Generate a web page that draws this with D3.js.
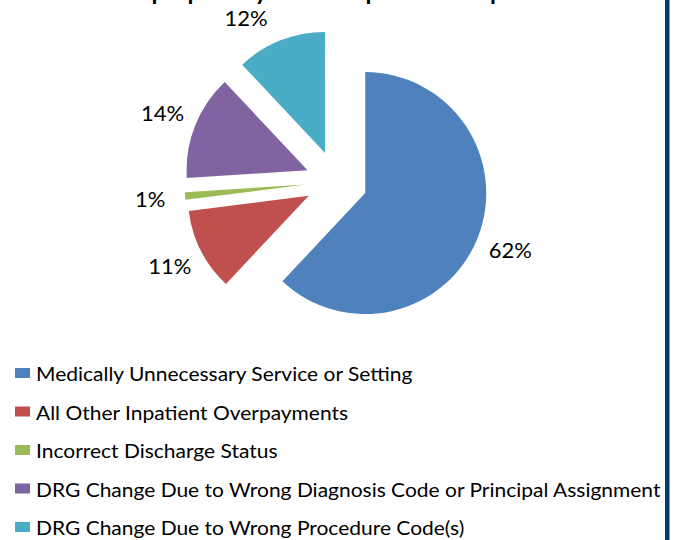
<!DOCTYPE html>
<meta charset="utf-8">
<html>
<head>
<style>
body { margin: 0; background: #fff; }
svg { display: block; }
text { font-family: Lato, "Open Sans", sans-serif; fill: #000; }
.title { font-weight: bold; font-size: 24px; text-anchor: middle; }
.pct { font-size: 22px; text-anchor: middle; }
.legend text { font-size: 18.5px; }
</style>
<script src="https://cdn.jsdelivr.net/npm/d3@7"></script>
</head>
<body>
<svg width="673" height="540"></svg>
<script>
// slice data, in the order Excel draws them (clockwise from 12 o'clock)
var categories = [
  "Medically Unnecessary Service or Setting",
  "All Other Inpatient Overpayments",
  "Incorrect Discharge Status",
  "DRG Change Due to Wrong Diagnosis Code or Principal Assignment",
  "DRG Change Due to Wrong Procedure Code(s)"
];
var shares = [62, 11, 1, 14, 12];
var pctLabels = ["62%", "11%", "1%", "14%", "12%"];
var colors = ["#4F81BD", "#C0504D", "#9BBB59", "#8064A2", "#4BACC6"];
var title = "Improper Payments: Inpatient Hospitals";

var svg = d3.select("svg"),
    width = +svg.attr("width"),
    height = +svg.attr("height");

// slide border on the right
svg.append("rect")
    .attr("x", 665).attr("y", 0)
    .attr("width", 4.5).attr("height", height)
    .attr("fill", "#083a6f");

// title, mostly cropped off the top (only its lower edge shows)
svg.append("text")
    .attr("class", "title")
    .attr("x", 336)
    .attr("y", 0)
    .text(title);

var cx = 336.4, cy = 181.7,
    radius = 121,
    explode = 31,
    labelRadius = 187,
    labelMinY = 18;

var pie = d3.pie().sort(null).value(function(d) { return d; });
var arc = d3.arc().innerRadius(0).outerRadius(radius);
var arcs = pie(shares);

var g = svg.append("g").attr("transform", "translate(" + cx + "," + cy + ")");

function mid(d) { return (d.startAngle + d.endAngle) / 2; }

g.selectAll("path.slice")
  .data(arcs)
  .enter().append("path")
    .attr("class", "slice")
    .attr("d", arc)
    .attr("fill", function(d, i) { return colors[i]; })
    .attr("transform", function(d) {
      var a = mid(d);
      return "translate(" + (Math.sin(a) * explode) + "," + (-Math.cos(a) * explode) + ")";
    });

// outside-end labels on a circle, pushed down along it if they hit the top
g.selectAll("text.pct")
  .data(arcs)
  .enter().append("text")
    .attr("class", "pct")
    .each(function(d, i) {
      var a = mid(d);
      var x = Math.sin(a) * labelRadius,
          y = -Math.cos(a) * labelRadius;
      if (y + cy < labelMinY) {
        y = labelMinY - cy;
        x = (x < 0 ? -1 : 1) * Math.sqrt(labelRadius * labelRadius - y * y);
      }
      d3.select(this)
        .attr("x", x)
        .attr("y", y)
        .attr("dy", "0.35em")
        .text(pctLabels[i]);
    });

// legend
var legendY = d3.scalePoint()
    .domain(categories)
    .range([373, 527]);

var legend = svg.append("g").attr("class", "legend");

var item = legend.selectAll("g")
  .data(categories)
  .enter().append("g")
    .attr("transform", function(d) { return "translate(0," + legendY(d) + ")"; });

item.append("rect")
    .attr("x", 15).attr("y", -5)
    .attr("width", 15).attr("height", 10)
    .attr("fill", function(d, i) { return colors[i]; });

var labels = item.append("text")
    .attr("x", 0)
    .attr("y", 0)
    .text(function(d) { return d; });

// the original font runs wider than Lato: stretch so the longest entry ends near the border
var longest = d3.max(labels.nodes(), function(n) { return n.getComputedTextLength(); });
var sx = Math.min(1.25, 625 / longest);
labels.attr("transform", "translate(36,8) scale(" + sx + ",1)");
</script>
</body>
</html>
